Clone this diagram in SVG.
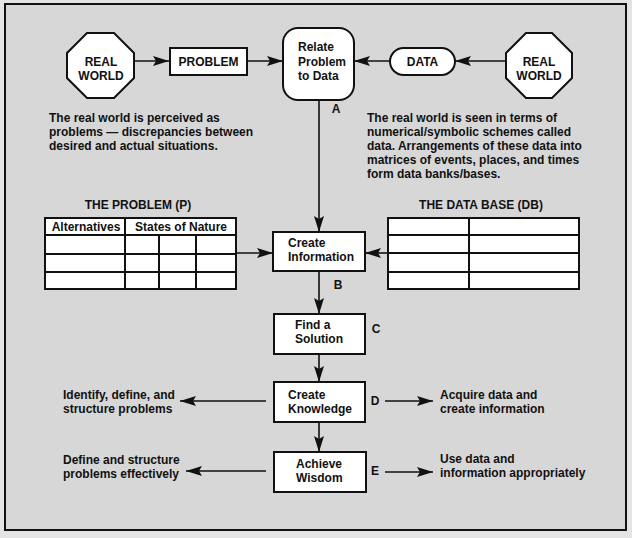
<svg xmlns="http://www.w3.org/2000/svg" width="632" height="538" viewBox="0 0 632 538">
<style>
text{font-family:"Liberation Sans",Arial,sans-serif;font-weight:bold;font-size:12px;fill:#111}
.c{text-anchor:middle}
.n{fill:#fff;stroke:#111;stroke-width:2}
.t{fill:none;stroke:#111;stroke-width:2}
.con line{stroke:#111;stroke-width:1.6;marker-end:url(#ah)}
</style>
<defs>
<marker id="ah" markerUnits="userSpaceOnUse" markerWidth="17" markerHeight="11" refX="16" refY="5" orient="auto">
<path d="M0,0 L16,5 L0,10 L3,5 z" fill="#111"/>
</marker>
</defs>
<rect x="0" y="0" width="632" height="538" fill="#e4e4e4"/>
<rect x="5" y="4" width="621" height="526" fill="#d7d7d7" stroke="#111" stroke-width="2"/>

<g id="real-world-left">
<polygon class="n" points="87,33 114,33 134,53 134,78 114,98 87,98 67,78 67,53"/>
<text class="c" x="101" y="66">REAL</text>
<text class="c" x="101" y="80">WORLD</text>
</g>
<g id="problem">
<rect class="n" x="170" y="48" width="77" height="27"/>
<text class="c" x="208.5" y="66">PROBLEM</text>
</g>
<g id="relate">
<rect class="n" x="283" y="28" width="71" height="72" rx="15"/>
<text x="298" y="51">Relate</text>
<text x="298" y="66">Problem</text>
<text x="298" y="80">to Data</text>
</g>
<g id="data">
<rect class="n" x="390" y="48" width="65" height="27" rx="13.5"/>
<text class="c" x="422.5" y="66">DATA</text>
</g>
<g id="real-world-right">
<polygon class="n" points="526,33 552,33 572,53 572,78 552,98 526,98 506,78 506,53"/>
<text class="c" x="539" y="66">REAL</text>
<text class="c" x="539" y="80">WORLD</text>
</g>

<g id="text-left">
<text x="49" y="122">The real world is perceived as</text>
<text x="49" y="136">problems — discrepancies between</text>
<text x="49" y="150">desired and actual situations.</text>
</g>
<g id="text-right">
<text x="367" y="122">The real world is seen in terms of</text>
<text x="367" y="136">numerical/symbolic schemes called</text>
<text x="367" y="150">data. Arrangements of these data into</text>
<text x="367" y="164">matrices of events, places, and times</text>
<text x="367" y="178">form data banks/bases.</text>
</g>
<text x="336" y="113" class="c">A</text>

<g id="problem-table">
<text class="c" x="138" y="209">THE PROBLEM (P)</text>
<rect class="n" x="45" y="218" width="191" height="71"/>
<line class="t" x1="45" y1="235" x2="236" y2="235"/>
<line class="t" x1="45" y1="254" x2="236" y2="254"/>
<line class="t" x1="45" y1="272" x2="236" y2="272"/>
<line class="t" x1="125" y1="218" x2="125" y2="289"/>
<line class="t" x1="159" y1="235" x2="159" y2="289"/>
<line class="t" x1="196" y1="235" x2="196" y2="289"/>
<text class="c" x="86" y="231">Alternatives</text>
<text class="c" x="181" y="231">States of Nature</text>
</g>
<g id="database-table">
<text class="c" x="481" y="209">THE DATA BASE (DB)</text>
<rect class="n" x="388" y="218" width="191" height="71"/>
<line class="t" x1="388" y1="235" x2="579" y2="235"/>
<line class="t" x1="388" y1="253" x2="579" y2="253"/>
<line class="t" x1="388" y1="272" x2="579" y2="272"/>
<line class="t" x1="469" y1="218" x2="469" y2="289"/>
</g>

<g id="create-information">
<rect class="n" x="273" y="232" width="92" height="39"/>
<text x="288" y="247">Create</text>
<text x="288" y="261">Information</text>
</g>
<text x="338" y="289" class="c">B</text>
<g id="find-solution">
<rect class="n" x="274" y="314" width="91" height="40"/>
<text x="295" y="329">Find a</text>
<text x="295" y="343">Solution</text>
</g>
<text x="376" y="333" class="c">C</text>
<g id="create-knowledge">
<rect class="n" x="274" y="382" width="91" height="40"/>
<text x="288" y="399">Create</text>
<text x="288" y="413">Knowledge</text>
</g>
<text x="375" y="405" class="c">D</text>
<g id="achieve-wisdom">
<rect class="n" x="274" y="452" width="92" height="40"/>
<text x="296" y="468">Achieve</text>
<text x="296" y="482">Wisdom</text>
</g>
<text x="375" y="475" class="c">E</text>

<g id="outcomes">
<text x="63" y="399">Identify, define, and</text>
<text x="63" y="413">structure problems</text>
<text x="440" y="399">Acquire data and</text>
<text x="440" y="413">create information</text>
<text x="63" y="464">Define and structure</text>
<text x="63" y="478">problems effectively</text>
<text x="440" y="463">Use data and</text>
<text x="440" y="477">information appropriately</text>
</g>

<g id="connectors" class="con">
<line x1="134" y1="61" x2="169" y2="61"/>
<line x1="247" y1="61" x2="283" y2="61"/>
<line x1="390" y1="61" x2="354" y2="61"/>
<line x1="506" y1="61" x2="455" y2="61"/>
<line x1="319" y1="100" x2="319" y2="232"/>
<line x1="236" y1="253" x2="273" y2="253"/>
<line x1="388" y1="253" x2="365" y2="253"/>
<line x1="319" y1="271" x2="319" y2="314"/>
<line x1="319" y1="354" x2="319" y2="382"/>
<line x1="266" y1="401" x2="180" y2="401"/>
<line x1="385" y1="401" x2="433" y2="401"/>
<line x1="319" y1="422" x2="319" y2="452"/>
<line x1="266" y1="471" x2="186" y2="471"/>
<line x1="385" y1="472" x2="433" y2="472"/>
</g>
</svg>
